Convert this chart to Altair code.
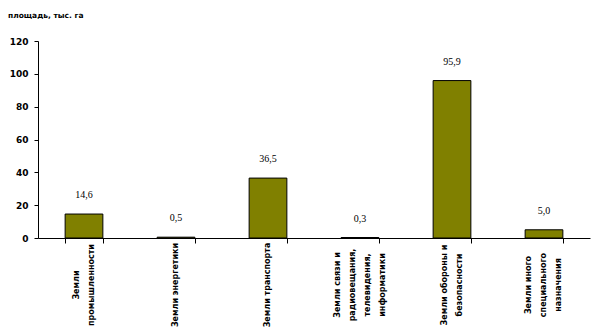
import altair as alt
import pandas as pd

categories = [
    ["Земли", "промышленности"],
    ["Земли энергетики"],
    ["Земли транспорта"],
    ["Земли связи и", "радиовещания,", "телевидения,", "информатики"],
    ["Земли обороны и", "безопасности"],
    ["Земли иного", "специального", "назначения"],
]
values = [14.6, 0.5, 36.5, 0.3, 95.9, 5.0]
y_ticks = [0, 20, 40, 60, 80, 100, 120]
y_title = "площадь, тыс. га"

W, H = 552, 197
PAD_IN, PAD_OUT = 0.59, 0.295
LINE_H = 15
n_cat = len(categories)
step = W / (n_cat - PAD_IN + 2 * PAD_OUT)
half_band = step * (1 - PAD_IN) / 2

cat_labels = [" ".join(c) for c in categories]
df = pd.DataFrame({
    "cat": cat_labels,
    "value": values,
    "label": [f"{v:.1f}".replace(".", ",") for v in values],
})
rows = []
for c, lines in zip(cat_labels, categories):
    n = len(lines)
    for i, ln in enumerate(lines):
        rows.append({"cat": c, "line": ln, "off": half_band + (i - (n - 1) / 2) * LINE_H})
lines_df = pd.DataFrame(rows)

xscale = alt.Scale(domain=cat_labels, paddingInner=PAD_IN, paddingOuter=PAD_OUT)
x = alt.X(
    "cat:N", sort=cat_labels, title=None, scale=xscale,
    axis=alt.Axis(
        labels=False, tickSize=5, tickBand="extent",
        domainColor="black", tickColor="black", grid=False,
    ),
)
yaxis = alt.Axis(
    values=y_ticks, tickSize=4, labelPadding=6, labelFont="DejaVu Sans",
    labelFontWeight="bold", labelFontSize=9, labelColor="black",
    labelOverlap=False, domainColor="black", tickColor="black", grid=False,
)
y = alt.Y("value:Q", title=None, scale=alt.Scale(domain=[0, 120], nice=False), axis=yaxis)

base = alt.Chart(df)
bars = base.mark_bar(color="#808000", stroke="black", strokeWidth=1).encode(x=x, y=y)
texts = base.mark_text(
    font="Liberation Serif", fontSize=10, baseline="middle", dy=-19, color="black"
).encode(x=x, y=y, text="label:N")

cat_text = alt.Chart(lines_df).mark_text(
    font="DejaVu Sans", fontWeight="bold", fontSize=8, angle=270,
    align="center", baseline="middle", color="black",
).encode(
    x=x,
    xOffset=alt.XOffset("off:Q", scale=None),
    y=alt.value(H + 47),
    text="line:N",
)

title_df = pd.DataFrame({"t": [y_title]})
title = alt.Chart(title_df).mark_text(
    font="DejaVu Sans", fontWeight="bold", fontSize=7.5, align="left",
    baseline="middle", color="black",
).encode(x=alt.value(-30), y=alt.value(-25), text="t:N")

chart = alt.layer(bars, texts, cat_text, title).properties(
    width=W, height=H,
    autosize=alt.AutoSizeParams(type="none"),
    padding={"left": 38, "top": 41, "right": 6, "bottom": 98},
    background="white",
).configure_view(stroke=None)

chart.save("out.html", embed_options={"renderer": "svg", "actions": False})
